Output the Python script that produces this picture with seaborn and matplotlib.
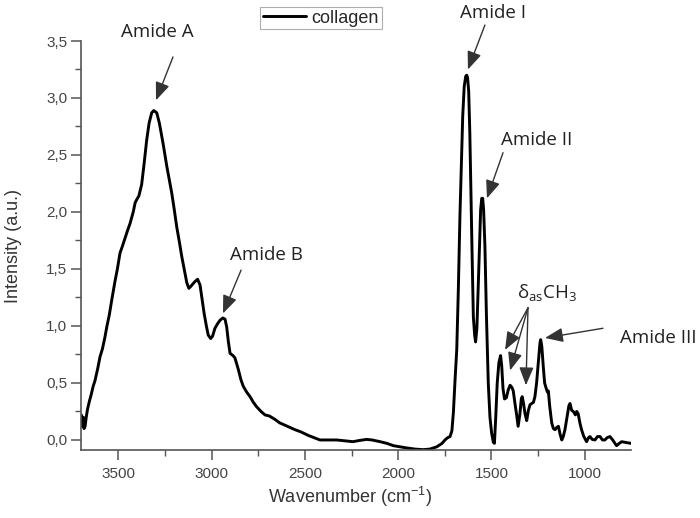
import matplotlib
matplotlib.use("Agg")
import matplotlib.pyplot as plt
import seaborn as sns
import pandas as pd
from matplotlib.ticker import FixedLocator, MultipleLocator

# ---- data ----
wavenumber = [
    3698, 3692, 3688, 3684, 3678, 3672, 3665, 3655, 3645, 3635, 3625, 3610, 3598, 3585, 3572,
    3562, 3548, 3535, 3518, 3505, 3491, 3478, 3464, 3450, 3437, 3420, 3410, 3401, 3390, 3375,
    3362, 3348, 3335, 3321, 3310, 3294, 3280, 3260, 3240, 3214, 3200, 3187, 3172, 3160, 3145,
    3133, 3122, 3110, 3100, 3089, 3075, 3062, 3050, 3040, 3028, 3018, 3005, 2995, 2982, 2968,
    2955, 2940, 2928, 2919, 2910, 2901, 2885, 2875, 2857, 2843, 2830, 2812, 2794, 2776, 2758,
    2735, 2714, 2690, 2660, 2635, 2607, 2580, 2553, 2520, 2482, 2450, 2419, 2380, 2330, 2300,
    2270, 2242, 2210, 2169, 2140, 2097, 2060, 2026, 1990, 1954, 1910, 1865, 1830, 1793, 1765,
    1749, 1735, 1722, 1712, 1704, 1695, 1686, 1677, 1669, 1660, 1654, 1646, 1638, 1633, 1628,
    1622, 1616, 1611, 1604, 1597, 1590, 1585, 1578, 1570, 1563, 1558, 1552, 1547, 1542, 1535,
    1527, 1517, 1508, 1499, 1490, 1484, 1477, 1469, 1460, 1451, 1445, 1438, 1430, 1420, 1410,
    1400, 1390, 1383, 1374, 1365, 1357, 1348, 1340, 1335, 1328, 1320, 1311, 1302, 1293, 1284,
    1275, 1267, 1258, 1249, 1240, 1236, 1230, 1222, 1215, 1208, 1200, 1195, 1188, 1177, 1168,
    1159, 1150, 1141, 1132, 1123, 1115, 1106, 1095, 1085, 1079, 1070, 1061, 1050, 1043, 1035,
    1026, 1017, 1005, 990, 980, 972, 960, 945, 932, 918, 905, 892, 880, 865, 850,
    838, 829, 815, 802, 785, 770, 752,
]
intensity = [
    0.22, 0.12, 0.20, 0.10, 0.12, 0.20, 0.27, 0.34, 0.40, 0.47, 0.52, 0.63, 0.73, 0.80, 0.90,
    0.99, 1.10, 1.23, 1.39, 1.50, 1.64, 1.70, 1.77, 1.84, 1.90, 2.00, 2.08, 2.11, 2.14, 2.24,
    2.42, 2.63, 2.78, 2.87, 2.89, 2.87, 2.78, 2.60, 2.40, 2.17, 2.02, 1.87, 1.73, 1.61, 1.48,
    1.38, 1.33, 1.35, 1.37, 1.39, 1.41, 1.36, 1.22, 1.11, 1.00, 0.92, 0.89, 0.91, 0.98, 1.02,
    1.05, 1.07, 1.06, 0.99, 0.86, 0.76, 0.74, 0.72, 0.62, 0.53, 0.47, 0.42, 0.38, 0.33, 0.29,
    0.25, 0.22, 0.21, 0.18, 0.15, 0.13, 0.11, 0.09, 0.07, 0.04, 0.02, 0.00, 0.00, 0.00, -0.005,
    -0.01, -0.015, -0.005, 0.005, 0.00, -0.015, -0.03, -0.05, -0.06, -0.07, -0.08, -0.085, -0.08, -0.06, -0.03,
    0.00, 0.02, 0.03, 0.08, 0.24, 0.53, 0.79, 1.35, 1.96, 2.50, 2.84, 3.10, 3.19, 3.20, 3.18,
    3.06, 2.70, 2.25, 1.65, 1.08, 0.92, 0.86, 0.98, 1.38, 1.75, 2.02, 2.12, 2.12, 2.02, 1.70,
    1.10, 0.50, 0.20, 0.06, -0.02, -0.03, 0.20, 0.50, 0.68, 0.74, 0.65, 0.45, 0.36, 0.37, 0.44,
    0.48, 0.46, 0.43, 0.32, 0.22, 0.12, 0.22, 0.36, 0.38, 0.32, 0.23, 0.17, 0.26, 0.31, 0.32,
    0.33, 0.38, 0.50, 0.68, 0.85, 0.88, 0.82, 0.64, 0.50, 0.46, 0.42, 0.43, 0.30, 0.15, 0.10,
    0.09, 0.11, 0.12, 0.05, 0.00, 0.03, 0.09, 0.20, 0.30, 0.32, 0.26, 0.25, 0.22, 0.25, 0.23,
    0.15, 0.09, 0.03, -0.015, 0.02, 0.03, 0.005, 0.00, 0.03, 0.03, 0.00, 0.00, 0.02, 0.03, 0.00,
    -0.03, -0.05, -0.03, -0.015, -0.02, -0.025, -0.03,
]
series_name = "collagen"

x_ticks = [3500, 3000, 2500, 2000, 1500, 1000]
y_ticks = [0.0, 0.5, 1.0, 1.5, 2.0, 2.5, 3.0, 3.5]
y_tick_labels = ["0,0", "0,5", "1,0", "1,5", "2,0", "2,5", "3,0", "3,5"]

# annotations: (label, text position, arrow start, arrow tips) in data coordinates
annotations = [
    ("Amide A", (3293, 3.58), (3207, 3.36), [(3298, 2.98)]),
    ("Amide B", (2708, 1.62), (2842, 1.49), [(2939, 1.11)]),
    ("Amide I", (1492, 3.75), (1535, 3.64), [(1626, 3.25)]),
    ("Amide II", (1256, 2.63), (1438, 2.52), [(1524, 2.12)]),
    (r"$\mathregular{\delta_{as}CH_3}$", (1202, 1.29), (1304, 1.16),
     [(1427, 0.79), (1400, 0.61), (1315, 0.48)]),
    ("Amide III", (607, 0.895), (902, 0.98), [(1213, 0.895)]),
]

df = pd.DataFrame({"Wavenumber": wavenumber, "Intensity": intensity, "series": series_name})

sns.set_style("ticks")
plt.rcParams["font.family"] = ["Liberation Sans", "DejaVu Sans"]
plt.rcParams["mathtext.default"] = "regular"

fig = plt.figure(figsize=(7.0, 5.18), dpi=100)
ax = fig.add_axes([81 / 700, 1 - 450 / 518, 550 / 700, 409 / 518])

sns.lineplot(data=df, x="Wavenumber", y="Intensity", hue="series", palette=["black"],
             linewidth=2.1, ax=ax, sort=False, estimator=None)

ax.set_xlim(3700, 752)
ax.set_ylim(-0.088, 3.5)

spine_col = "#555555"
for s in ["top", "right"]:
    ax.spines[s].set_visible(False)
for s in ["left", "bottom"]:
    ax.spines[s].set_color(spine_col)
    ax.spines[s].set_linewidth(1.2)

ax.xaxis.set_major_locator(FixedLocator(x_ticks))
ax.xaxis.set_minor_locator(MultipleLocator(250))
ax.yaxis.set_major_locator(FixedLocator(y_ticks))
ax.set_yticklabels(y_tick_labels)
ax.yaxis.set_minor_locator(MultipleLocator(0.25))
ax.tick_params(which="major", direction="out", length=7, width=1.1, color=spine_col,
               labelsize=11, labelcolor="#444444")
ax.tick_params(which="minor", direction="out", length=4, width=1.0, color=spine_col)
ax.tick_params(axis="x", which="major", pad=5)
ax.tick_params(axis="y", which="major", pad=3)

ax.set_xlabel(r"Wavenumber (cm$^{-1}$)", fontsize=13, color="#333333")
ax.set_ylabel("Intensity (a.u.)", fontsize=13, color="#333333")
ax.xaxis.set_label_coords((350 - 81) / 550, -0.085)
ax.yaxis.set_label_coords(-0.108, 0.5)

ann_font = ["Open Sans", "DejaVu Sans"]
for label, tpos, start, tips in annotations:
    ax.text(tpos[0], tpos[1], label, ha="center", va="center", fontsize=13.5,
            family=ann_font, color="#222222", clip_on=False)
    for tip in tips:
        ax.annotate("", xy=tip, xytext=start, xycoords="data", textcoords="data",
                    annotation_clip=False,
                    arrowprops=dict(arrowstyle="-|>,head_length=0.55,head_width=0.22",
                                    mutation_scale=20, color="#333333", lw=1.0,
                                    shrinkA=0, shrinkB=0))

leg = ax.legend(loc="upper left", bbox_to_anchor=(260 / 700, 1 - 7 / 518),
                bbox_transform=fig.transFigure, frameon=True, fancybox=False,
                fontsize=13, handlelength=2.4, handletextpad=0.3, borderpad=0.15,
                borderaxespad=0, title=None)
leg.get_frame().set_edgecolor("#999999")
leg.get_frame().set_linewidth(0.8)
for line in leg.get_lines():
    line.set_linewidth(2.1)

fig.savefig("out.png", dpi=100)
